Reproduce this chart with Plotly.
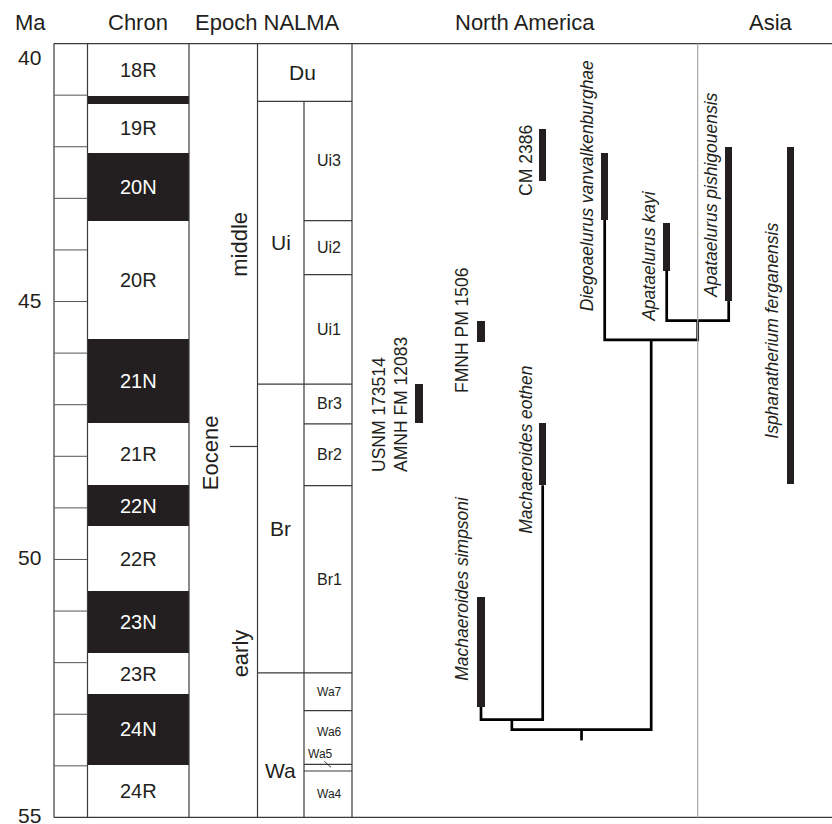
import plotly.graph_objects as go

# ---------------- data ----------------
ma_labels = [40, 45, 50, 55]
ma_minor = list(range(41, 55))

chron_names = ["18R", "19N", "19R", "20N", "20R", "21N", "21R", "22N", "22R", "23N", "23R", "24N", "24R"]
chron_top = [40.0, 41.02, 41.17, 42.12, 43.43, 45.72, 47.35, 48.56, 49.35, 50.62, 51.82, 52.61, 53.98]
chron_base = chron_top[1:] + [55.0]

epoch_names = ["middle", "Eocene", "early"]
epoch_label_age = [43.9, 47.94, 51.82]
epoch_boundary = 47.81

nalma_names = ["Du", "Ui", "Br", "Wa"]
nalma_top = [40.0, 41.12, 46.6, 52.2]
nalma_base = [41.12, 46.6, 52.2, 55.0]

sub_names = ["Ui3", "Ui2", "Ui1", "Br3", "Br2", "Br1", "Wa7", "Wa6", "Wa5", "Wa4"]
sub_top = [41.12, 43.43, 44.48, 46.6, 47.37, 48.57, 52.2, 52.93, 53.97, 54.10]
sub_base = [43.43, 44.48, 46.6, 47.37, 48.57, 52.2, 52.93, 53.97, 54.10, 55.0]

taxa = ["CM 2386", "Diegoaelurus vanvalkenburghae", "Apataelurus kayi",
        "Apataelurus pishigouensis", "Isphanatherium ferganensis", "FMNH PM 1506",
        "USNM 173514|AMNH FM 12083", "Machaeroides eothen", "Machaeroides simpsoni"]
taxon_last = [41.66, 42.13, 43.48, 42.0, 42.0, 45.38, 46.6, 47.36, 50.73]    # youngest
taxon_first = [42.67, 43.42, 44.40, 44.99, 48.53, 45.79, 47.36, 48.56, 52.86]  # oldest
taxon_italic = [False, True, True, True, True, False, False, True, True]

tree = {"age": 53.30, "children": [
    {"age": 53.105, "children": ["Machaeroides simpsoni", "Machaeroides eothen"]},
    {"age": 45.744, "children": ["Diegoaelurus vanvalkenburghae",
                                 {"age": 45.37, "children": ["Apataelurus kayi", "Apataelurus pishigouensis"]}]},
]}
root_stem_age = 53.507

# ---------------- layout helpers (positions) ----------------
X_LEFT, X_MA, X_CHRON, X_EPOCH, X_NALMA_IN, X_NALMA, X_ASIA, X_RIGHT = 54, 87.5, 189, 257.5, 304, 352, 697.7, 832
taxon_x = [542.7, 604.7, 666.7, 728.7, 790.3, 481, 419, 542.7, 481]
label_dx = [-17.5, -17.5, -18, -17.5, -18.5, -19, -28.7, -17.5, -18.5]
label_age = [42.27, 42.76, 44.12, 42.93, 45.57, 45.57, 47.0, 47.87, 50.56]
sub_label_override = {"Wa6": 53.35, "Wa5": 53.77}
nalma_label_override = {"Wa": 54.09}

FONT = "Liberation Sans, Arial, Helvetica, sans-serif"
INK = "#231f20"
LINE = "#3a3a3a"

fig = go.Figure()

# chron blocks
fig.add_trace(go.Bar(
    x=[(X_MA + X_CHRON) / 2] * len(chron_names),
    y=[b - t for t, b in zip(chron_top, chron_base)],
    base=chron_top, width=X_CHRON - X_MA,
    marker=dict(color=[INK if n.endswith("N") else "white" for n in chron_names], line=dict(width=0)),
    hoverinfo="skip", showlegend=False))

# taxon ranges
fig.add_trace(go.Bar(
    x=taxon_x, y=[f - l for f, l in zip(taxon_first, taxon_last)], base=taxon_last,
    width=7.5, marker=dict(color=INK, line=dict(width=0)),
    hoverinfo="skip", showlegend=False))

# tree
idx = {n: i for i, n in enumerate(taxa)}
tx, ty = [], []


def place(node):
    if isinstance(node, str):
        i = idx[node]
        return taxon_x[i], taxon_first[i]
    (x0, y0), (x1, y1) = [place(c) for c in node["children"]]
    tx.extend([x0, x0, x1, x1, None])
    ty.extend([y0, node["age"], node["age"], y1, None])
    return (x0 + x1) / 2, node["age"]


rx, ry = place(tree)
tx.extend([rx, rx, None])
ty.extend([ry, root_stem_age, None])
fig.add_trace(go.Scatter(x=tx, y=ty, mode="lines", line=dict(color="black", width=2.7),
                         hoverinfo="skip", showlegend=False))

shapes = []


def hline(y, x0, x1, color=LINE, w=1.2):
    shapes.append(dict(type="line", xref="x", yref="y", x0=x0, x1=x1, y0=y, y1=y,
                       line=dict(color=color, width=w), layer="above"))


def vline(x, y0, y1, color=LINE, w=1.2):
    shapes.append(dict(type="line", xref="x", yref="y", x0=x, x1=x, y0=y0, y1=y1,
                       line=dict(color=color, width=w), layer="above"))


hline(40, X_LEFT, X_RIGHT)
hline(55, X_LEFT, X_RIGHT)
for xv in [X_LEFT, X_MA, X_CHRON, X_EPOCH, X_NALMA]:
    vline(xv, 40, 55)
vline(X_ASIA, 40, 55, color="#a8a8a8")
vline(X_NALMA_IN, nalma_base[0], 55)
for m in ma_minor:
    hline(m, X_LEFT, X_MA, color="#555555", w=1)
for t in nalma_top[1:]:
    hline(t, X_EPOCH, X_NALMA)
for t in sub_top:
    if t not in nalma_top:
        hline(t, X_NALMA_IN, X_NALMA)
hline(epoch_boundary, 230, X_EPOCH)
# Wa5 pointer
shapes.append(dict(type="line", xref="x", yref="y", x0=324.3, x1=331, y0=53.91, y1=54.03,
                   line=dict(color=LINE, width=1), layer="above"))

ann = []


def text(x, y, s, size, color=INK, angle=0, xref="x", yref="y", **kw):
    d = dict(x=x, y=y, xref=xref, yref=yref, text=s, showarrow=False, textangle=angle,
             font=dict(family=FONT, size=size, color=color), xanchor="center", yanchor="middle")
    d.update(kw)
    ann.append(d)


# headers (paper coords so they are never hidden)
PLOT_W = X_RIGHT - 53
for s, xv in [("Ma", 30.3), ("Chron", 138), ("Epoch NALMA", 267), ("North America", 525), ("Asia", 771.3)]:
    text((xv - 53) / PLOT_W, 1, s, 22, xref="paper", yref="paper", yshift=19)

# Ma labels
ma_shift = {40: -14, 45: 1, 50: 2, 55: 2}
for m in ma_labels:
    text(0, m, str(m), 21, xref="paper", xanchor="right", xshift=-10, yshift=ma_shift[m])

# chron labels
for n, t, b in zip(chron_names, chron_top, chron_base):
    if n == "19N":
        continue
    text((X_MA + X_CHRON) / 2, (t + b) / 2, n, 20, color="white" if n.endswith("N") else INK)

# epoch labels
text(240, epoch_label_age[0], epoch_names[0], 22, angle=-90)
text(210, epoch_label_age[1], epoch_names[1], 22, angle=-90)
text(240, epoch_label_age[2], epoch_names[2], 22, angle=-90)

# NALMA labels
for n, t, b in zip(nalma_names, nalma_top, nalma_base):
    xv = (X_EPOCH + X_NALMA) / 2 - 2 if n == "Du" else (X_EPOCH + X_NALMA_IN) / 2
    text(xv, nalma_label_override.get(n, (t + b) / 2), n, 21)
for n, t, b in zip(sub_names, sub_top, sub_base):
    size = 12 if n.startswith("Wa") else 16
    xv = 320 if n == "Wa5" else (X_NALMA_IN + X_NALMA) / 2 + 1
    text(xv, sub_label_override.get(n, (t + b) / 2), n, size)

# taxon labels
for i, n in enumerate(taxa):
    s = n.replace("|", "<br>")
    if taxon_italic[i]:
        s = "<i>" + s + "</i>"
    text(taxon_x[i] + label_dx[i], label_age[i], s, 17.5, angle=-90, align="left")

fig.update_layout(
    width=832, height=824,
    margin=dict(l=53, r=0, t=41, b=4),
    paper_bgcolor="white", plot_bgcolor="white",
    barmode="overlay", bargap=0,
    xaxis=dict(range=[53, 832], visible=False, fixedrange=True),
    yaxis=dict(range=[55.05, 39.95], visible=False, fixedrange=True),
    shapes=shapes, annotations=ann, showlegend=False,
)

fig.write_html("out.html", config={"displayModeBar": False},
               post_script="document.body.style.margin='0px';document.body.style.overflow='hidden';")
